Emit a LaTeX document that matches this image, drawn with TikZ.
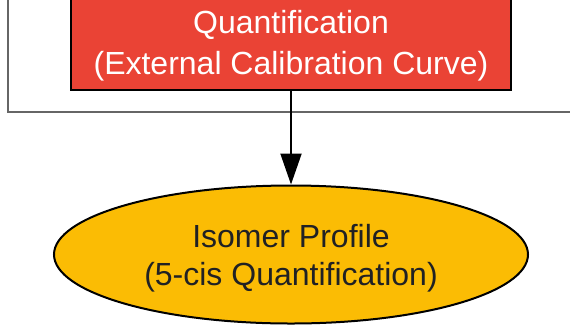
\documentclass[tikz,border=0pt]{standalone}
\usepackage{fontspec}
\setmainfont{Liberation Sans}
\usetikzlibrary{shapes.geometric,arrows.meta}
\definecolor{boxred}{HTML}{EA4335}
\definecolor{ellyellow}{HTML}{FBBC04}
\definecolor{clustergray}{HTML}{666666}
\definecolor{darktext}{HTML}{202124}
\tikzset{
  quantbox/.style={rectangle, draw=black, fill=boxred, line width=2pt,
    minimum width=440pt, minimum height=95pt, inner sep=0pt, text depth=0pt,
    text=white, align=center, font=\fontsize{32}{41}\selectfont},
  profileell/.style={ellipse, draw=black, fill=ellyellow, line width=2pt,
    minimum width=474pt, minimum height=138pt, inner sep=0pt, text depth=0pt,
    text=darktext, align=center, font=\fontsize{32}{38}\selectfont},
  flowarrow/.style={draw=black, line width=2pt, -{Triangle[length=31pt,width=21pt]}},
  clusterline/.style={draw=clustergray, line width=2pt}
}
\begin{document}
\begin{tikzpicture}[x=1pt,y=-1pt]
\useasboundingbox (0,0) rectangle (570,325);
\clip (0,0) rectangle (570,325);
\draw[clusterline] (8,-10) -- (8,111.5) -- (580,111.5);
\node[quantbox] (quant) at (291,42.5) {Quantification\\(External Calibration Curve)};
\node[profileell] (profile) at (291,254.5) {Isomer Profile\\(5-cis Quantification)};
\draw[flowarrow] (quant.south) -- (profile.north);
\end{tikzpicture}
\end{document}
